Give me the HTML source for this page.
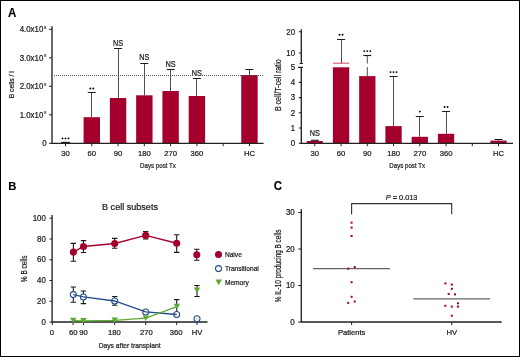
<!DOCTYPE html>
<html><head><meta charset="utf-8"><style>
html,body{margin:0;padding:0;background:#fff;}
body{width:520px;height:357px;overflow:hidden;}
svg{display:block;will-change:transform;font-family:"Liberation Sans",sans-serif;}
</style></head><body>
<svg width="520" height="357" viewBox="0 0 520 357">
<rect x="0.5" y="0.5" width="519" height="356" fill="#fff" stroke="#000" stroke-width="1"/>
<text transform="translate(8.1,16.75) scale(0.94,1)" text-anchor="start" style="font-size:12.3px;fill:#000;stroke:#000;stroke-width:0.1;font-weight:bold;">A</text>
<rect x="61.30" y="142.20" width="8.40" height="1.20" fill="#A5002D"/>
<rect x="83.58" y="117.20" width="16.40" height="26.20" fill="#A5002D"/>
<rect x="109.86" y="98.00" width="16.40" height="45.40" fill="#A5002D"/>
<rect x="136.14" y="95.30" width="16.40" height="48.10" fill="#A5002D"/>
<rect x="162.42" y="91.00" width="16.40" height="52.40" fill="#A5002D"/>
<rect x="188.70" y="96.00" width="16.40" height="47.40" fill="#A5002D"/>
<rect x="241.26" y="75.00" width="16.40" height="68.40" fill="#A5002D"/>
<path d="M54 75.5H263.6" stroke="#555" stroke-width="1" fill="none" stroke-dasharray="1 1"/>
<path d="M91.5 117.2V92.5" stroke="#505050" stroke-width="1" fill="none" />
<path d="M87.78 92.5H95.78" stroke="#1a1a1a" stroke-width="1.0" fill="none" />
<path d="M118.5 98V48.5" stroke="#505050" stroke-width="1" fill="none" />
<path d="M114.06 48.5H122.06" stroke="#1a1a1a" stroke-width="1.0" fill="none" />
<path d="M144.5 95.3V63.5" stroke="#505050" stroke-width="1" fill="none" />
<path d="M140.34 63.5H148.34" stroke="#1a1a1a" stroke-width="1.0" fill="none" />
<path d="M170.5 91V69.5" stroke="#505050" stroke-width="1" fill="none" />
<path d="M166.62 69.5H174.62" stroke="#1a1a1a" stroke-width="1.0" fill="none" />
<path d="M196.5 96V78.5" stroke="#505050" stroke-width="1" fill="none" />
<path d="M192.90 78.5H200.90" stroke="#1a1a1a" stroke-width="1.0" fill="none" />
<path d="M249.5 75V69.5" stroke="#505050" stroke-width="1" fill="none" />
<path d="M245.46 69.5H253.46" stroke="#1a1a1a" stroke-width="1.0" fill="none" />
<path d="M61.2 142.4H69.7" stroke="#1a1a1a" stroke-width="1.15" fill="none" />
<rect x="191.80" y="70.00" width="10.20" height="6.00" fill="#fff"/>
<text transform="translate(118.06,45.5) scale(0.88,1)" text-anchor="middle" style="font-size:8.3px;fill:#1a1a1a;stroke:#1a1a1a;stroke-width:0.22;">NS</text>
<text transform="translate(144.34,60.1) scale(0.88,1)" text-anchor="middle" style="font-size:8.3px;fill:#1a1a1a;stroke:#1a1a1a;stroke-width:0.22;">NS</text>
<text transform="translate(170.62,67.0) scale(0.88,1)" text-anchor="middle" style="font-size:8.3px;fill:#1a1a1a;stroke:#1a1a1a;stroke-width:0.22;">NS</text>
<text transform="translate(196.9,75.5) scale(0.88,1)" text-anchor="middle" style="font-size:8.3px;fill:#1a1a1a;stroke:#1a1a1a;stroke-width:0.22;">NS</text>
<circle cx="62.5" cy="138.4" r="0.95" fill="#000" stroke="none" stroke-width="1.0"/>
<circle cx="65.5" cy="138.4" r="0.95" fill="#000" stroke="none" stroke-width="1.0"/>
<circle cx="68.5" cy="138.4" r="0.95" fill="#000" stroke="none" stroke-width="1.0"/>
<circle cx="90.28" cy="88.5" r="0.95" fill="#000" stroke="none" stroke-width="1.0"/>
<circle cx="93.28" cy="88.5" r="0.95" fill="#000" stroke="none" stroke-width="1.0"/>
<path d="M52 26.3V143.4H263.6" stroke="#222" stroke-width="1.35" fill="none" />
<path d="M49 29.30H52M49 57.80H52M49 86.30H52M49 114.80H52M49 143.30H52" stroke="#222" stroke-width="1" fill="none" />
<path d="M65.50 143.4V146.2M91.78 143.4V146.2M118.06 143.4V146.2M144.34 143.4V146.2M170.62 143.4V146.2M196.90 143.4V146.2M223.18 143.4V146.2M249.46 143.4V146.2" stroke="#222" stroke-width="1" fill="none" />
<text transform="translate(43.3,32.05) scale(0.95,1)" text-anchor="end" style="font-size:8.3px;fill:#1a1a1a;stroke:#1a1a1a;stroke-width:0.22;">4.0x10</text>
<text transform="translate(43.9,28.5) scale(1.0,1)" text-anchor="start" style="font-size:4.2px;fill:#1a1a1a;stroke:#1a1a1a;stroke-width:0.12;">8</text>
<text transform="translate(43.3,60.55) scale(0.95,1)" text-anchor="end" style="font-size:8.3px;fill:#1a1a1a;stroke:#1a1a1a;stroke-width:0.22;">3.0x10</text>
<text transform="translate(43.9,57.0) scale(1.0,1)" text-anchor="start" style="font-size:4.2px;fill:#1a1a1a;stroke:#1a1a1a;stroke-width:0.12;">8</text>
<text transform="translate(43.3,89.05) scale(0.95,1)" text-anchor="end" style="font-size:8.3px;fill:#1a1a1a;stroke:#1a1a1a;stroke-width:0.22;">2.0x10</text>
<text transform="translate(43.9,85.5) scale(1.0,1)" text-anchor="start" style="font-size:4.2px;fill:#1a1a1a;stroke:#1a1a1a;stroke-width:0.12;">8</text>
<text transform="translate(43.3,117.55) scale(0.95,1)" text-anchor="end" style="font-size:8.3px;fill:#1a1a1a;stroke:#1a1a1a;stroke-width:0.22;">1.0x10</text>
<text transform="translate(43.9,114.0) scale(1.0,1)" text-anchor="start" style="font-size:4.2px;fill:#1a1a1a;stroke:#1a1a1a;stroke-width:0.12;">8</text>
<text transform="translate(46.6,146.05) scale(0.95,1)" text-anchor="end" style="font-size:8.3px;fill:#1a1a1a;stroke:#1a1a1a;stroke-width:0.22;">0</text>
<text transform="translate(65.5,156.0) scale(1.01,1)" text-anchor="middle" style="font-size:7.6px;fill:#1a1a1a;stroke:#1a1a1a;stroke-width:0.22;">30</text>
<text transform="translate(91.78,156.0) scale(1.01,1)" text-anchor="middle" style="font-size:7.6px;fill:#1a1a1a;stroke:#1a1a1a;stroke-width:0.22;">60</text>
<text transform="translate(118.06,156.0) scale(1.01,1)" text-anchor="middle" style="font-size:7.6px;fill:#1a1a1a;stroke:#1a1a1a;stroke-width:0.22;">90</text>
<text transform="translate(144.34,156.0) scale(1.01,1)" text-anchor="middle" style="font-size:7.6px;fill:#1a1a1a;stroke:#1a1a1a;stroke-width:0.22;">180</text>
<text transform="translate(170.62,156.0) scale(1.01,1)" text-anchor="middle" style="font-size:7.6px;fill:#1a1a1a;stroke:#1a1a1a;stroke-width:0.22;">270</text>
<text transform="translate(196.9,156.0) scale(1.01,1)" text-anchor="middle" style="font-size:7.6px;fill:#1a1a1a;stroke:#1a1a1a;stroke-width:0.22;">360</text>
<text transform="translate(249.46,156.0) scale(1.01,1)" text-anchor="middle" style="font-size:7.6px;fill:#1a1a1a;stroke:#1a1a1a;stroke-width:0.22;">HC</text>
<text transform="translate(158.0,168.0) scale(0.855,1)" text-anchor="middle" style="font-size:7.2px;fill:#1a1a1a;stroke:#1a1a1a;stroke-width:0.22;">Days post Tx</text>
<text transform="translate(14.1,84.8) rotate(-90) scale(0.835,1)" text-anchor="middle" style="font-size:8.1px;fill:#1a1a1a;stroke:#1a1a1a;stroke-width:0.22;">B cells / l</text>
<rect x="306.70" y="141.00" width="16.10" height="2.40" fill="#A5002D"/>
<rect x="332.90" y="67.30" width="16.30" height="76.10" fill="#A5002D"/>
<rect x="359.15" y="76.10" width="16.30" height="67.30" fill="#A5002D"/>
<rect x="385.40" y="126.10" width="16.30" height="17.30" fill="#A5002D"/>
<rect x="411.65" y="136.80" width="16.30" height="6.60" fill="#A5002D"/>
<rect x="437.90" y="133.80" width="16.30" height="9.60" fill="#A5002D"/>
<rect x="490.40" y="140.60" width="16.30" height="2.80" fill="#A5002D"/>
<line x1="332.90" y1="63.2" x2="349.20" y2="63.2" stroke="#D24A62" stroke-width="1"/>
<path d="M341.5 63.2V39.5" stroke="#505050" stroke-width="1" fill="none" />
<path d="M337.05 39.5H345.05" stroke="#1a1a1a" stroke-width="1.0" fill="none" />
<path d="M393.5 126.1V76.5" stroke="#505050" stroke-width="1" fill="none" />
<path d="M389.55 76.5H397.55" stroke="#1a1a1a" stroke-width="1.0" fill="none" />
<path d="M419.5 136.8V116.5" stroke="#505050" stroke-width="1" fill="none" />
<path d="M415.80 116.5H423.80" stroke="#1a1a1a" stroke-width="1.0" fill="none" />
<path d="M446.5 133.8V111.5" stroke="#505050" stroke-width="1" fill="none" />
<path d="M442.05 111.5H450.05" stroke="#1a1a1a" stroke-width="1.0" fill="none" />
<path d="M498.5 140.6V139.5" stroke="#505050" stroke-width="1" fill="none" />
<path d="M494.55 139.5H502.55" stroke="#1a1a1a" stroke-width="1.0" fill="none" />
<path d="M367.30 76.1V67M367.30 63.5V55.5" stroke="#505050" stroke-width="1" fill="none" />
<path d="M363.30 55.5H371.30" stroke="#1a1a1a" stroke-width="1.15" fill="none" />
<path d="M310.90 140.3H318.70" stroke="#1a1a1a" stroke-width="1.15" fill="none" />
<text transform="translate(314.8,135.6) scale(0.88,1)" text-anchor="middle" style="font-size:8.3px;fill:#1a1a1a;stroke:#1a1a1a;stroke-width:0.22;">NS</text>
<circle cx="339.55" cy="34.7" r="0.95" fill="#000" stroke="none" stroke-width="1.0"/>
<circle cx="342.55" cy="34.7" r="0.95" fill="#000" stroke="none" stroke-width="1.0"/>
<circle cx="364.3" cy="51.1" r="0.95" fill="#000" stroke="none" stroke-width="1.0"/>
<circle cx="367.3" cy="51.1" r="0.95" fill="#000" stroke="none" stroke-width="1.0"/>
<circle cx="370.3" cy="51.1" r="0.95" fill="#000" stroke="none" stroke-width="1.0"/>
<circle cx="390.55" cy="72.1" r="0.95" fill="#000" stroke="none" stroke-width="1.0"/>
<circle cx="393.55" cy="72.1" r="0.95" fill="#000" stroke="none" stroke-width="1.0"/>
<circle cx="396.55" cy="72.1" r="0.95" fill="#000" stroke="none" stroke-width="1.0"/>
<circle cx="419.8" cy="111.6" r="0.95" fill="#000" stroke="none" stroke-width="1.0"/>
<circle cx="444.55" cy="107.0" r="0.95" fill="#000" stroke="none" stroke-width="1.0"/>
<circle cx="447.55" cy="107.0" r="0.95" fill="#000" stroke="none" stroke-width="1.0"/>
<path d="M301.3 29.2V63.5M301.3 67V143.4H513" stroke="#222" stroke-width="1.35" fill="none" />
<path d="M298.8 31.8H301.3M298.8 53.0H301.3M298.8 67.3H301.3M298.8 82.4H301.3M298.8 97.6H301.3M298.8 112.8H301.3M298.8 128.0H301.3M298.8 143.2H301.3M299.7 63.5H303.0M298.0 67.4H303.0" stroke="#222" stroke-width="1.1" fill="none" />
<path d="M314.80 143.4V146.2M341.05 143.4V146.2M367.30 143.4V146.2M393.55 143.4V146.2M419.80 143.4V146.2M446.05 143.4V146.2M472.30 143.4V146.2M498.55 143.4V146.2" stroke="#222" stroke-width="1" fill="none" />
<text transform="translate(295.1,34.55) scale(0.95,1)" text-anchor="end" style="font-size:8.3px;fill:#1a1a1a;stroke:#1a1a1a;stroke-width:0.22;">20</text>
<text transform="translate(295.1,55.75) scale(0.95,1)" text-anchor="end" style="font-size:8.3px;fill:#1a1a1a;stroke:#1a1a1a;stroke-width:0.22;">10</text>
<text transform="translate(295.1,70.05) scale(0.95,1)" text-anchor="end" style="font-size:8.3px;fill:#1a1a1a;stroke:#1a1a1a;stroke-width:0.22;">5</text>
<text transform="translate(295.1,85.15) scale(0.95,1)" text-anchor="end" style="font-size:8.3px;fill:#1a1a1a;stroke:#1a1a1a;stroke-width:0.22;">4</text>
<text transform="translate(295.1,100.35) scale(0.95,1)" text-anchor="end" style="font-size:8.3px;fill:#1a1a1a;stroke:#1a1a1a;stroke-width:0.22;">3</text>
<text transform="translate(295.1,115.55) scale(0.95,1)" text-anchor="end" style="font-size:8.3px;fill:#1a1a1a;stroke:#1a1a1a;stroke-width:0.22;">2</text>
<text transform="translate(295.1,130.75) scale(0.95,1)" text-anchor="end" style="font-size:8.3px;fill:#1a1a1a;stroke:#1a1a1a;stroke-width:0.22;">1</text>
<text transform="translate(295.1,145.95) scale(0.95,1)" text-anchor="end" style="font-size:8.3px;fill:#1a1a1a;stroke:#1a1a1a;stroke-width:0.22;">0</text>
<text transform="translate(314.8,156.0) scale(1.01,1)" text-anchor="middle" style="font-size:7.6px;fill:#1a1a1a;stroke:#1a1a1a;stroke-width:0.22;">30</text>
<text transform="translate(341.05,156.0) scale(1.01,1)" text-anchor="middle" style="font-size:7.6px;fill:#1a1a1a;stroke:#1a1a1a;stroke-width:0.22;">60</text>
<text transform="translate(367.3,156.0) scale(1.01,1)" text-anchor="middle" style="font-size:7.6px;fill:#1a1a1a;stroke:#1a1a1a;stroke-width:0.22;">90</text>
<text transform="translate(393.55,156.0) scale(1.01,1)" text-anchor="middle" style="font-size:7.6px;fill:#1a1a1a;stroke:#1a1a1a;stroke-width:0.22;">180</text>
<text transform="translate(419.8,156.0) scale(1.01,1)" text-anchor="middle" style="font-size:7.6px;fill:#1a1a1a;stroke:#1a1a1a;stroke-width:0.22;">270</text>
<text transform="translate(446.05,156.0) scale(1.01,1)" text-anchor="middle" style="font-size:7.6px;fill:#1a1a1a;stroke:#1a1a1a;stroke-width:0.22;">360</text>
<text transform="translate(498.55,156.0) scale(1.01,1)" text-anchor="middle" style="font-size:7.6px;fill:#1a1a1a;stroke:#1a1a1a;stroke-width:0.22;">HC</text>
<text transform="translate(407.2,168.0) scale(0.855,1)" text-anchor="middle" style="font-size:7.2px;fill:#1a1a1a;stroke:#1a1a1a;stroke-width:0.22;">Days post Tx</text>
<text transform="translate(281.0,85.2) rotate(-90) scale(0.842,1)" text-anchor="middle" style="font-size:8.4px;fill:#1a1a1a;stroke:#1a1a1a;stroke-width:0.22;">B cell/T-cell ratio</text>
<text transform="translate(8.35,190.2) scale(0.99,1)" text-anchor="start" style="font-size:11.4px;fill:#000;stroke:#000;stroke-width:0.1;font-weight:bold;">B</text>
<text transform="translate(130.0,209.8) scale(0.975,1)" text-anchor="middle" style="font-size:9.3px;fill:#1a1a1a;stroke:#1a1a1a;stroke-width:0.22;">B cell subsets</text>
<path d="M52.1 215.1V322H207.5" stroke="#222" stroke-width="1.35" fill="none" />
<path d="M49.5 218.20H52M49.5 238.97H52M49.5 259.74H52M49.5 280.51H52M49.5 301.28H52M49.5 322.05H52" stroke="#222" stroke-width="1" fill="none" />
<path d="M52.3 322V325M73.1 322V325M83.5 322V325M114.7 322V325M145.7 322V325M176.7 322V325M197.0 322V325" stroke="#222" stroke-width="1" fill="none" />
<text transform="translate(45.8,220.95) scale(0.95,1)" text-anchor="end" style="font-size:8.3px;fill:#1a1a1a;stroke:#1a1a1a;stroke-width:0.22;">100</text>
<text transform="translate(45.8,241.72) scale(0.95,1)" text-anchor="end" style="font-size:8.3px;fill:#1a1a1a;stroke:#1a1a1a;stroke-width:0.22;">80</text>
<text transform="translate(45.8,262.49) scale(0.95,1)" text-anchor="end" style="font-size:8.3px;fill:#1a1a1a;stroke:#1a1a1a;stroke-width:0.22;">60</text>
<text transform="translate(45.8,283.26) scale(0.95,1)" text-anchor="end" style="font-size:8.3px;fill:#1a1a1a;stroke:#1a1a1a;stroke-width:0.22;">40</text>
<text transform="translate(45.8,304.03) scale(0.95,1)" text-anchor="end" style="font-size:8.3px;fill:#1a1a1a;stroke:#1a1a1a;stroke-width:0.22;">20</text>
<text transform="translate(45.8,324.8) scale(0.95,1)" text-anchor="end" style="font-size:8.3px;fill:#1a1a1a;stroke:#1a1a1a;stroke-width:0.22;">0</text>
<text transform="translate(52.0,335.3) scale(1.01,1)" text-anchor="middle" style="font-size:7.6px;fill:#1a1a1a;stroke:#1a1a1a;stroke-width:0.22;">0</text>
<text transform="translate(73.3,335.3) scale(1.01,1)" text-anchor="middle" style="font-size:7.6px;fill:#1a1a1a;stroke:#1a1a1a;stroke-width:0.22;">60</text>
<text transform="translate(83.5,335.3) scale(1.01,1)" text-anchor="middle" style="font-size:7.6px;fill:#1a1a1a;stroke:#1a1a1a;stroke-width:0.22;">90</text>
<text transform="translate(114.3,335.3) scale(1.01,1)" text-anchor="middle" style="font-size:7.6px;fill:#1a1a1a;stroke:#1a1a1a;stroke-width:0.22;">180</text>
<text transform="translate(146.4,335.3) scale(1.01,1)" text-anchor="middle" style="font-size:7.6px;fill:#1a1a1a;stroke:#1a1a1a;stroke-width:0.22;">270</text>
<text transform="translate(176.1,335.3) scale(1.01,1)" text-anchor="middle" style="font-size:7.6px;fill:#1a1a1a;stroke:#1a1a1a;stroke-width:0.22;">360</text>
<text transform="translate(197.0,335.3) scale(1.01,1)" text-anchor="middle" style="font-size:7.6px;fill:#1a1a1a;stroke:#1a1a1a;stroke-width:0.22;">HV</text>
<text transform="translate(129.6,347.8) scale(0.92,1)" text-anchor="middle" style="font-size:7.3px;fill:#1a1a1a;stroke:#1a1a1a;stroke-width:0.22;">Days after transplant</text>
<text transform="translate(27.3,268.8) rotate(-90) scale(0.78,1)" text-anchor="middle" style="font-size:8.4px;fill:#1a1a1a;stroke:#1a1a1a;stroke-width:0.22;">% B cells</text>
<path d="M73.4 243.4V261.3M70.7 243.4H76.10000000000001M70.7 261.3H76.10000000000001" stroke="#1a1a1a" stroke-width="1.1" fill="none" />
<path d="M83.5 240.6V252.5M80.8 240.6H86.2M80.8 252.5H86.2" stroke="#1a1a1a" stroke-width="1.1" fill="none" />
<path d="M114.7 238.4V248.2M112.0 238.4H117.4M112.0 248.2H117.4" stroke="#1a1a1a" stroke-width="1.1" fill="none" />
<path d="M145.7 231.5V239M143.0 231.5H148.39999999999998M143.0 239H148.39999999999998" stroke="#1a1a1a" stroke-width="1.1" fill="none" />
<path d="M176.7 234.7V252.4M174.0 234.7H179.39999999999998M174.0 252.4H179.39999999999998" stroke="#1a1a1a" stroke-width="1.1" fill="none" />
<path d="M196.8 249.2V260.2M194.10000000000002 249.2H199.5M194.10000000000002 260.2H199.5" stroke="#1a1a1a" stroke-width="1.1" fill="none" />
<path d="M73.3 287V302.3M70.6 287H76.0M70.6 302.3H76.0" stroke="#1a1a1a" stroke-width="1.1" fill="none" />
<path d="M83.4 291V303.6M80.7 291H86.10000000000001M80.7 303.6H86.10000000000001" stroke="#1a1a1a" stroke-width="1.1" fill="none" />
<path d="M114.7 296.5V305.3M112.0 296.5H117.4M112.0 305.3H117.4" stroke="#1a1a1a" stroke-width="1.1" fill="none" />
<path d="M176.7 299.6V312M174.0 299.6H179.39999999999998" stroke="#1a1a1a" stroke-width="1.1" fill="none" />
<path d="M197 285.5V296.5M194.3 285.5H199.7M194.3 296.5H199.7" stroke="#1a1a1a" stroke-width="1.1" fill="none" />
<circle cx="73.3" cy="294.6" r="3.0" fill="#fff" stroke="#234A8A" stroke-width="1.05"/>
<circle cx="83.4" cy="296.9" r="3.0" fill="#fff" stroke="#234A8A" stroke-width="1.05"/>
<circle cx="114.7" cy="301" r="3.0" fill="#fff" stroke="#234A8A" stroke-width="1.05"/>
<circle cx="145.7" cy="311.9" r="3.0" fill="#fff" stroke="#234A8A" stroke-width="1.05"/>
<circle cx="176.7" cy="314.5" r="3.0" fill="#fff" stroke="#234A8A" stroke-width="1.05"/>
<circle cx="197" cy="318.8" r="3.0" fill="#fff" stroke="#234A8A" stroke-width="1.05"/>
<polyline points="73.4,252.1 83.5,246.5 114.7,243.5 145.7,235.4 176.7,243.3" fill="none" stroke="#A5002D" stroke-width="1.4"/>
<polyline points="73.3,294.6 83.4,296.9 114.7,301 145.7,311.9 176.7,314.5" fill="none" stroke="#234A8A" stroke-width="1.3"/>
<polyline points="73.3,320.6 83.4,320.9 114.7,320.4 145.7,318.2 176.9,306.6" fill="none" stroke="#5BAA32" stroke-width="1.3"/>
<circle cx="73.4" cy="252.1" r="3.55" fill="#A5002D" stroke="none" stroke-width="1.0"/>
<circle cx="83.5" cy="246.5" r="3.55" fill="#A5002D" stroke="none" stroke-width="1.0"/>
<circle cx="114.7" cy="243.5" r="3.55" fill="#A5002D" stroke="none" stroke-width="1.0"/>
<circle cx="145.7" cy="235.4" r="3.55" fill="#A5002D" stroke="none" stroke-width="1.0"/>
<circle cx="176.7" cy="243.3" r="3.55" fill="#A5002D" stroke="none" stroke-width="1.0"/>
<circle cx="196.8" cy="254.7" r="3.55" fill="#A5002D" stroke="none" stroke-width="1.0"/>
<circle cx="218.5" cy="254.5" r="3.55" fill="#A5002D" stroke="none" stroke-width="1.0"/>
<circle cx="197" cy="318.8" r="0.6" fill="#888" stroke="none" stroke-width="1.0"/>
<circle cx="218.5" cy="268.6" r="3.0" fill="none" stroke="#234A8A" stroke-width="1.05"/>
<path d="M70.10 317.80H76.50L73.30 323.40Z" stroke="none" stroke-width="1.0" fill="#5BAA32" />
<path d="M80.20 318.10H86.60L83.40 323.70Z" stroke="none" stroke-width="1.0" fill="#5BAA32" />
<path d="M111.50 317.60H117.90L114.70 323.20Z" stroke="none" stroke-width="1.0" fill="#5BAA32" />
<path d="M142.50 315.40H148.90L145.70 321.00Z" stroke="none" stroke-width="1.0" fill="#5BAA32" />
<path d="M173.70 303.80H180.10L176.90 309.40Z" stroke="none" stroke-width="1.0" fill="#5BAA32" />
<path d="M193.80 287.40H200.20L197.00 293.00Z" stroke="none" stroke-width="1.0" fill="#5BAA32" />
<path d="M215.50 279.60H221.90L218.70 285.20Z" stroke="none" stroke-width="1.0" fill="#5BAA32" />
<text transform="translate(224.9,257.08) scale(0.92,1)" text-anchor="start" style="font-size:7.2px;fill:#1a1a1a;stroke:#1a1a1a;stroke-width:0.22;">Naive</text>
<text transform="translate(224.9,271.18) scale(0.92,1)" text-anchor="start" style="font-size:7.2px;fill:#1a1a1a;stroke:#1a1a1a;stroke-width:0.22;">Transitional</text>
<text transform="translate(224.9,284.98) scale(0.92,1)" text-anchor="start" style="font-size:7.2px;fill:#1a1a1a;stroke:#1a1a1a;stroke-width:0.22;">Memory</text>
<text transform="translate(273.8,190.4) scale(0.96,1)" text-anchor="start" style="font-size:12.0px;fill:#000;stroke:#000;stroke-width:0.1;font-weight:bold;">C</text>
<path d="M301.3 209.2V322H501.7" stroke="#222" stroke-width="1.35" fill="none" />
<path d="M298.2 212.5H301.3M298.2 249.0H301.3M298.2 285.5H301.3M298.2 322.05H301.3" stroke="#222" stroke-width="1" fill="none" />
<path d="M351.6 322V325M451.8 322V325" stroke="#222" stroke-width="1" fill="none" />
<text transform="translate(294.7,215.25) scale(0.95,1)" text-anchor="end" style="font-size:8.3px;fill:#1a1a1a;stroke:#1a1a1a;stroke-width:0.22;">30</text>
<text transform="translate(294.7,251.75) scale(0.95,1)" text-anchor="end" style="font-size:8.3px;fill:#1a1a1a;stroke:#1a1a1a;stroke-width:0.22;">20</text>
<text transform="translate(294.7,288.25) scale(0.95,1)" text-anchor="end" style="font-size:8.3px;fill:#1a1a1a;stroke:#1a1a1a;stroke-width:0.22;">10</text>
<text transform="translate(294.7,324.8) scale(0.95,1)" text-anchor="end" style="font-size:8.3px;fill:#1a1a1a;stroke:#1a1a1a;stroke-width:0.22;">0</text>
<text transform="translate(351.6,334.9) scale(1.0,1)" text-anchor="middle" style="font-size:7.6px;fill:#1a1a1a;stroke:#1a1a1a;stroke-width:0.22;">Patients</text>
<text transform="translate(451.7,334.9) scale(1.01,1)" text-anchor="middle" style="font-size:7.6px;fill:#1a1a1a;stroke:#1a1a1a;stroke-width:0.22;">HV</text>
<text transform="translate(280.6,265.9) rotate(-90) scale(0.763,1)" text-anchor="middle" style="font-size:8.4px;fill:#1a1a1a;stroke:#1a1a1a;stroke-width:0.22;">% IL-10 producing B cells</text>
<path d="M351.6 214.4V203.6H451.7V214.2" stroke="#333" stroke-width="1.1" fill="none" />
<text transform="translate(385.8,199.6) scale(0.98,1)" style="font-size:7.5px;fill:#1a1a1a;stroke:#1a1a1a;stroke-width:0.22;"><tspan style="font-style:italic">P</tspan> <tspan style="font-weight:bold">=</tspan> 0.013</text>
<path d="M313 268.6H390.1" stroke="#666" stroke-width="1.3" fill="none" />
<path d="M413.4 298.9H490" stroke="#666" stroke-width="1.3" fill="none" />
<rect x="350.60" y="221.70" width="2.00" height="2.00" fill="#A00028"/>
<rect x="350.60" y="226.60" width="2.00" height="2.00" fill="#A00028"/>
<rect x="350.60" y="235.00" width="2.00" height="2.00" fill="#A00028"/>
<rect x="353.70" y="266.00" width="2.00" height="2.00" fill="#A00028"/>
<rect x="347.20" y="267.60" width="2.00" height="2.00" fill="#A00028"/>
<rect x="350.60" y="281.20" width="2.00" height="2.00" fill="#A00028"/>
<rect x="350.60" y="295.80" width="2.00" height="2.00" fill="#A00028"/>
<rect x="353.70" y="300.50" width="2.00" height="2.00" fill="#A00028"/>
<rect x="347.20" y="301.90" width="2.00" height="2.00" fill="#A00028"/>
<rect x="444.40" y="282.40" width="2.00" height="2.00" fill="#A00028"/>
<rect x="450.80" y="283.60" width="2.00" height="2.00" fill="#A00028"/>
<rect x="450.80" y="287.80" width="2.00" height="2.00" fill="#A00028"/>
<rect x="447.70" y="292.90" width="2.00" height="2.00" fill="#A00028"/>
<rect x="454.00" y="293.40" width="2.00" height="2.00" fill="#A00028"/>
<rect x="457.00" y="302.30" width="2.00" height="2.00" fill="#A00028"/>
<rect x="444.40" y="304.80" width="2.00" height="2.00" fill="#A00028"/>
<rect x="450.80" y="305.60" width="2.00" height="2.00" fill="#A00028"/>
<rect x="457.00" y="305.60" width="2.00" height="2.00" fill="#A00028"/>
<rect x="450.80" y="314.70" width="2.00" height="2.00" fill="#A00028"/>
</svg>
</body></html>
